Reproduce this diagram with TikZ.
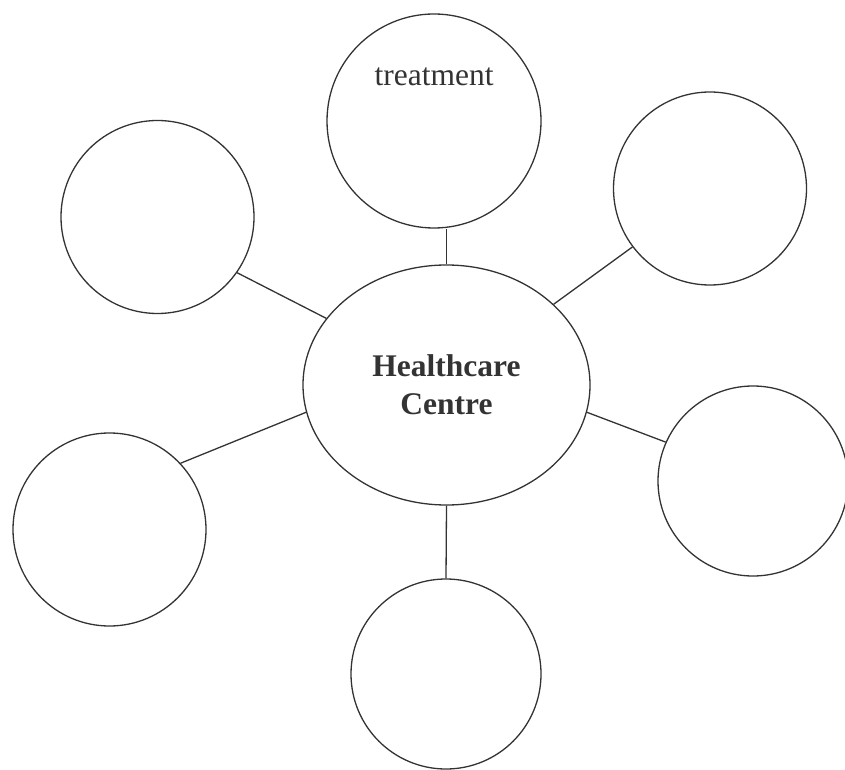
\documentclass[tikz,border=0pt]{standalone}
\usepackage{fontspec}
\setmainfont{Liberation Serif}
\usepackage{tikz}
\usetikzlibrary{shapes.geometric, positioning, calc}
\definecolor{inkgray}{HTML}{333333}

\begin{document}
\begin{tikzpicture}[x=1pt, y=1pt,
    bubble/.style={draw=inkgray, line width=1.3pt, circle, minimum size=193pt, inner sep=0pt},
    hub/.style={draw=inkgray, line width=1.3pt, ellipse, minimum width=287pt, minimum height=240pt, inner sep=0pt,
        align=center, text=inkgray, font=\bfseries\fontsize{31.5}{38}\selectfont},
    spoke/.style={draw=inkgray, line width=1.3pt},
    word/.style={text=inkgray, font=\fontsize{31.5}{38}\selectfont}]
\useasboundingbox (0,0) rectangle (845,769);

% Centre
\node[hub] (hc) at (446.5,384) {Healthcare\\Centre};

% Surrounding bubbles
\node[bubble, minimum size=214pt] (top) at (434,648) {};
\node[bubble] (ul) at (157.5,552) {};
\node[bubble] (ur) at (710,580.5) {};
\node[bubble, minimum size=190pt] (rt) at (753,288) {};
\node[bubble] (ll) at (109.5,239.5) {};
\node[bubble, minimum size=190pt] (bt) at (446,95) {};

% Label in the top bubble
\node[word] (treat) at ([yshift=-63pt]top.north) {treatment};

% Spokes
\draw[spoke] (hc.north) -- (hc.north |- top.south);
\draw[spoke] (hc.151) -- (ul.325);
\draw[spoke] (hc.37) -- (ur.217);
\draw[spoke] (hc.349) -- (rt.156);
\draw[spoke] (hc.191) -- (ll.43);
\draw[spoke] (hc.south) -- (bt.north);
\end{tikzpicture}
\end{document}
